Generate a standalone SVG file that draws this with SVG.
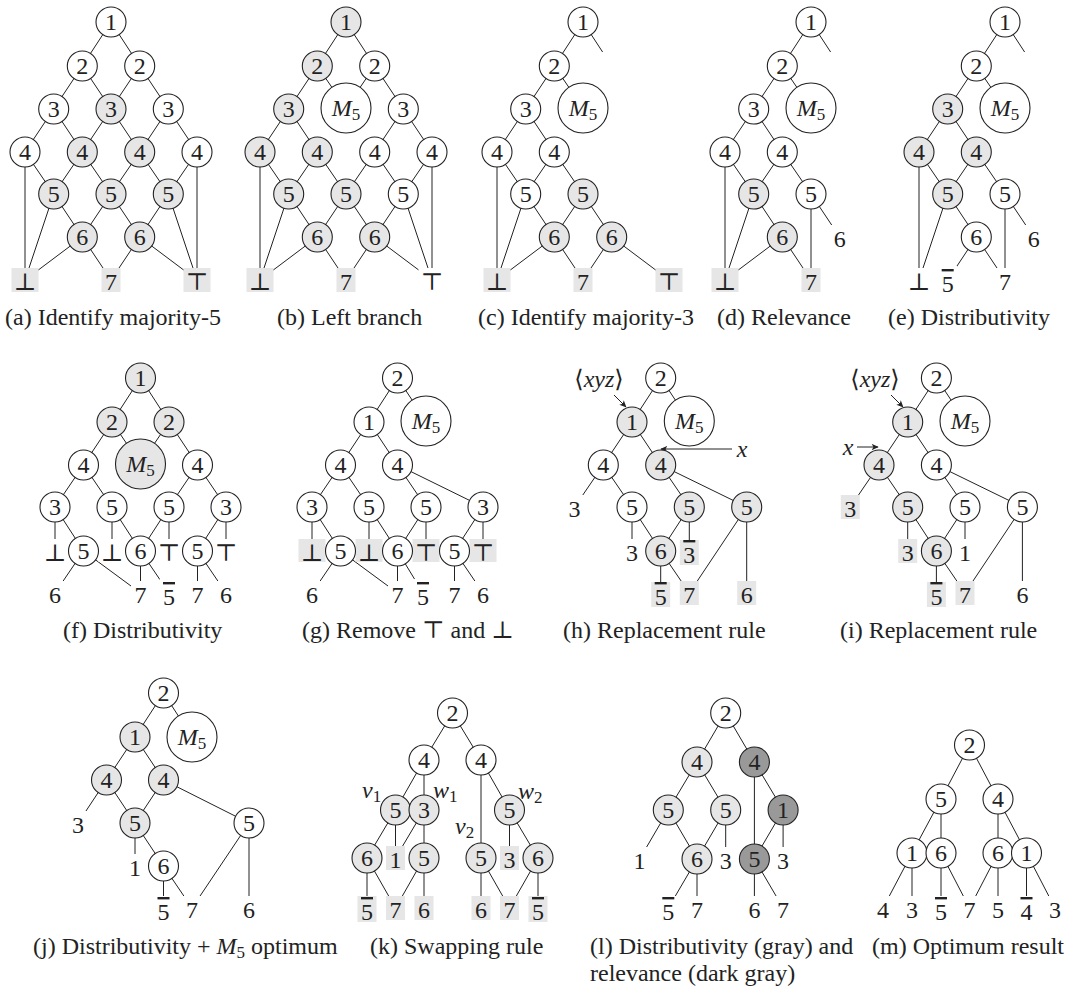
<svg xmlns="http://www.w3.org/2000/svg" width="1066" height="989" viewBox="0 0 1066 989" font-family="Liberation Serif, DejaVu Serif, Noto Serif, Tinos, Times New Roman, serif">
<defs>
<style>
.e line{stroke:#222;stroke-width:1}
circle{stroke:#222;stroke-width:1.1}
.w{fill:#fff}
.g{fill:#e6e6e6}
.d{fill:#999}
.bx{fill:#e6e6e6}
.wb{fill:#fff}
text{font-family:Liberation Serif, DejaVu Serif, Noto Serif, Tinos, Times New Roman, FreeSerif, serif;font-size:24px;fill:#222}
.c{text-anchor:middle}
.it{font-style:italic}
.sub{font-size:17px}
.bar{text-decoration:overline}
.ar{stroke:#222;stroke-width:1;marker-end:url(#ah)}
</style>
<marker id="ah" viewBox="0 0 10 10" refX="9" refY="5" markerWidth="8" markerHeight="7" markerUnits="userSpaceOnUse" orient="auto"><path d="M0,0.5 L10,5 L0,9.5 L2.5,5 z" fill="#222"/></marker>
</defs>
<rect width="1066" height="989" fill="#fff"/>

<!-- (a) -->
<g id="panel-a">
<g id="a-edges" class="e">
<line x1="111" y1="22" x2="82.3" y2="66"/><line x1="111" y1="22" x2="139.7" y2="66"/>
<line x1="82.3" y1="66" x2="53.7" y2="109"/><line x1="82.3" y1="66" x2="111" y2="109"/><line x1="139.7" y1="66" x2="111" y2="109"/><line x1="139.7" y1="66" x2="168.3" y2="109"/>
<line x1="53.7" y1="109" x2="25" y2="152"/><line x1="53.7" y1="109" x2="82.3" y2="152"/><line x1="111" y1="109" x2="82.3" y2="152"/><line x1="111" y1="109" x2="139.7" y2="152"/><line x1="168.3" y1="109" x2="139.7" y2="152"/><line x1="168.3" y1="109" x2="197" y2="152"/>
<line x1="25" y1="152" x2="53.7" y2="194"/><line x1="82.3" y1="152" x2="53.7" y2="194"/><line x1="82.3" y1="152" x2="111" y2="194"/><line x1="139.7" y1="152" x2="111" y2="194"/><line x1="139.7" y1="152" x2="168.3" y2="194"/><line x1="197" y1="152" x2="168.3" y2="194"/>
<line x1="53.7" y1="194" x2="82.3" y2="237"/><line x1="111" y1="194" x2="82.3" y2="237"/><line x1="111" y1="194" x2="139.7" y2="237"/><line x1="168.3" y1="194" x2="139.7" y2="237"/>
<line x1="25" y1="152" x2="25" y2="280"/><line x1="53.7" y1="194" x2="25" y2="280"/><line x1="82.3" y1="237" x2="25" y2="280"/><line x1="82.3" y1="237" x2="111" y2="280"/><line x1="139.7" y1="237" x2="111" y2="280"/><line x1="139.7" y1="237" x2="197" y2="280"/><line x1="168.3" y1="194" x2="197" y2="280"/><line x1="197" y1="152" x2="197" y2="280"/>
</g>
<g id="a-lbot"><rect class="bx" x="11.5" y="268" width="27" height="24"/><text class="c" x="25" y="290">&#x22A5;</text></g>
<g id="a-l7"><rect class="bx" x="101.5" y="268" width="19" height="24"/><text class="c" x="111" y="290">7</text></g>
<g id="a-ltop"><rect class="bx" x="183.5" y="268" width="27" height="24"/><text class="c" x="197" y="290">&#x22A4;</text></g>
<g id="a-n1"><circle class="w" cx="111" cy="22" r="15"/><text class="c" x="111" y="30">1</text></g>
<g id="a-n2l"><circle class="w" cx="82.3" cy="66" r="15"/><text class="c" x="82.3" y="74">2</text></g>
<g id="a-n2r"><circle class="w" cx="139.7" cy="66" r="15"/><text class="c" x="139.7" y="74">2</text></g>
<g id="a-n3l"><circle class="w" cx="53.7" cy="109" r="15"/><text class="c" x="53.7" y="117">3</text></g>
<g id="a-n3m"><circle class="g" cx="111" cy="109" r="15"/><text class="c" x="111" y="117">3</text></g>
<g id="a-n3r"><circle class="w" cx="168.3" cy="109" r="15"/><text class="c" x="168.3" y="117">3</text></g>
<g id="a-n4a"><circle class="w" cx="25" cy="152" r="15"/><text class="c" x="25" y="160">4</text></g>
<g id="a-n4b"><circle class="g" cx="82.3" cy="152" r="15"/><text class="c" x="82.3" y="160">4</text></g>
<g id="a-n4c"><circle class="g" cx="139.7" cy="152" r="15"/><text class="c" x="139.7" y="160">4</text></g>
<g id="a-n4d"><circle class="w" cx="197" cy="152" r="15"/><text class="c" x="197" y="160">4</text></g>
<g id="a-n5a"><circle class="g" cx="53.7" cy="194" r="15"/><text class="c" x="53.7" y="202">5</text></g>
<g id="a-n5b"><circle class="g" cx="111" cy="194" r="15"/><text class="c" x="111" y="202">5</text></g>
<g id="a-n5c"><circle class="g" cx="168.3" cy="194" r="15"/><text class="c" x="168.3" y="202">5</text></g>
<g id="a-n6a"><circle class="g" cx="82.3" cy="237" r="15"/><text class="c" x="82.3" y="245">6</text></g>
<g id="a-n6b"><circle class="g" cx="139.7" cy="237" r="15"/><text class="c" x="139.7" y="245">6</text></g>
</g>

<!-- (b) -->
<g id="panel-b" transform="translate(235,0)">
<g id="b-edges" class="e">
<line x1="111" y1="22" x2="82.3" y2="66"/><line x1="111" y1="22" x2="139.7" y2="66"/>
<line x1="82.3" y1="66" x2="53.7" y2="109"/><line x1="82.3" y1="66" x2="111" y2="108"/><line x1="139.7" y1="66" x2="111" y2="108"/><line x1="139.7" y1="66" x2="168.3" y2="109"/>
<line x1="53.7" y1="109" x2="25" y2="152"/><line x1="53.7" y1="109" x2="82.3" y2="152"/><line x1="168.3" y1="109" x2="139.7" y2="152"/><line x1="168.3" y1="109" x2="197" y2="152"/>
<line x1="25" y1="152" x2="53.7" y2="194"/><line x1="82.3" y1="152" x2="53.7" y2="194"/><line x1="82.3" y1="152" x2="111" y2="194"/><line x1="139.7" y1="152" x2="111" y2="194"/><line x1="139.7" y1="152" x2="168.3" y2="194"/><line x1="197" y1="152" x2="168.3" y2="194"/>
<line x1="53.7" y1="194" x2="82.3" y2="237"/><line x1="111" y1="194" x2="82.3" y2="237"/><line x1="111" y1="194" x2="139.7" y2="237"/><line x1="168.3" y1="194" x2="139.7" y2="237"/>
<line x1="25" y1="152" x2="25" y2="280"/><line x1="53.7" y1="194" x2="25" y2="280"/><line x1="82.3" y1="237" x2="25" y2="280"/><line x1="82.3" y1="237" x2="111" y2="280"/><line x1="139.7" y1="237" x2="111" y2="280"/><line x1="139.7" y1="237" x2="197" y2="280"/><line x1="168.3" y1="194" x2="197" y2="280"/><line x1="197" y1="152" x2="197" y2="280"/>
</g>
<g id="b-lbot"><rect class="bx" x="11.5" y="268" width="27" height="24"/><text class="c" x="25" y="290">&#x22A5;</text></g>
<g id="b-l7"><rect class="bx" x="101.5" y="268" width="19" height="24"/><text class="c" x="111" y="290">7</text></g>
<g id="b-ltop"><rect class="wb" x="183.5" y="268" width="27" height="24"/><text class="c" x="197" y="290">&#x22A4;</text></g>
<g id="b-n1"><circle class="g" cx="111" cy="22" r="15"/><text class="c" x="111" y="30">1</text></g>
<g id="b-n2l"><circle class="g" cx="82.3" cy="66" r="15"/><text class="c" x="82.3" y="74">2</text></g>
<g id="b-n2r"><circle class="w" cx="139.7" cy="66" r="15"/><text class="c" x="139.7" y="74">2</text></g>
<g id="b-n3l"><circle class="g" cx="53.7" cy="109" r="15"/><text class="c" x="53.7" y="117">3</text></g>
<g id="b-m5"><circle class="w" cx="111" cy="108" r="25"/><text class="c" x="111" y="116"><tspan class="it">M</tspan><tspan class="sub" dy="4">5</tspan></text></g>
<g id="b-n3r"><circle class="w" cx="168.3" cy="109" r="15"/><text class="c" x="168.3" y="117">3</text></g>
<g id="b-n4a"><circle class="g" cx="25" cy="152" r="15"/><text class="c" x="25" y="160">4</text></g>
<g id="b-n4b"><circle class="g" cx="82.3" cy="152" r="15"/><text class="c" x="82.3" y="160">4</text></g>
<g id="b-n4c"><circle class="w" cx="139.7" cy="152" r="15"/><text class="c" x="139.7" y="160">4</text></g>
<g id="b-n4d"><circle class="w" cx="197" cy="152" r="15"/><text class="c" x="197" y="160">4</text></g>
<g id="b-n5a"><circle class="g" cx="53.7" cy="194" r="15"/><text class="c" x="53.7" y="202">5</text></g>
<g id="b-n5b"><circle class="g" cx="111" cy="194" r="15"/><text class="c" x="111" y="202">5</text></g>
<g id="b-n5c"><circle class="w" cx="168.3" cy="194" r="15"/><text class="c" x="168.3" y="202">5</text></g>
<g id="b-n6a"><circle class="g" cx="82.3" cy="237" r="15"/><text class="c" x="82.3" y="245">6</text></g>
<g id="b-n6b"><circle class="g" cx="139.7" cy="237" r="15"/><text class="c" x="139.7" y="245">6</text></g>
</g>

<!-- (c) -->
<g id="panel-c" transform="translate(472,0)">
<g id="c-edges" class="e">
<line x1="111" y1="22" x2="82.3" y2="66"/><line x1="111" y1="22" x2="130.6" y2="52"/>
<line x1="82.3" y1="66" x2="53.7" y2="109"/><line x1="82.3" y1="66" x2="111" y2="108"/>
<line x1="53.7" y1="109" x2="25" y2="152"/><line x1="53.7" y1="109" x2="82.3" y2="152"/>
<line x1="25" y1="152" x2="53.7" y2="194"/><line x1="82.3" y1="152" x2="53.7" y2="194"/><line x1="82.3" y1="152" x2="111" y2="194"/>
<line x1="53.7" y1="194" x2="82.3" y2="237"/><line x1="111" y1="194" x2="82.3" y2="237"/><line x1="111" y1="194" x2="139.7" y2="237"/>
<line x1="25" y1="152" x2="25" y2="280"/><line x1="53.7" y1="194" x2="25" y2="280"/><line x1="82.3" y1="237" x2="25" y2="280"/><line x1="82.3" y1="237" x2="111" y2="280"/><line x1="139.7" y1="237" x2="111" y2="280"/><line x1="139.7" y1="237" x2="197" y2="280"/>
</g>
<g id="c-lbot"><rect class="bx" x="11.5" y="268" width="27" height="24"/><text class="c" x="25" y="290">&#x22A5;</text></g>
<g id="c-l7"><rect class="bx" x="101.5" y="268" width="19" height="24"/><text class="c" x="111" y="290">7</text></g>
<g id="c-ltop"><rect class="bx" x="183.5" y="268" width="27" height="24"/><text class="c" x="197" y="290">&#x22A4;</text></g>
<g id="c-n1"><circle class="w" cx="111" cy="22" r="15"/><text class="c" x="111" y="30">1</text></g>
<g id="c-n2"><circle class="w" cx="82.3" cy="66" r="15"/><text class="c" x="82.3" y="74">2</text></g>
<g id="c-n3"><circle class="w" cx="53.7" cy="109" r="15"/><text class="c" x="53.7" y="117">3</text></g>
<g id="c-m5"><circle class="w" cx="111" cy="108" r="25"/><text class="c" x="111" y="116"><tspan class="it">M</tspan><tspan class="sub" dy="4">5</tspan></text></g>
<g id="c-n4l"><circle class="w" cx="25" cy="152" r="15"/><text class="c" x="25" y="160">4</text></g>
<g id="c-n4r"><circle class="w" cx="82.3" cy="152" r="15"/><text class="c" x="82.3" y="160">4</text></g>
<g id="c-n5l"><circle class="w" cx="53.7" cy="194" r="15"/><text class="c" x="53.7" y="202">5</text></g>
<g id="c-n5r"><circle class="g" cx="111" cy="194" r="15"/><text class="c" x="111" y="202">5</text></g>
<g id="c-n6l"><circle class="g" cx="82.3" cy="237" r="15"/><text class="c" x="82.3" y="245">6</text></g>
<g id="c-n6r"><circle class="g" cx="139.7" cy="237" r="15"/><text class="c" x="139.7" y="245">6</text></g>
</g>

<!-- (d) -->
<g id="panel-d" transform="translate(700,0)">
<g id="d-edges" class="e">
<line x1="111" y1="22" x2="82.3" y2="66"/><line x1="111" y1="22" x2="130.6" y2="52"/>
<line x1="82.3" y1="66" x2="53.7" y2="109"/><line x1="82.3" y1="66" x2="111" y2="108"/>
<line x1="53.7" y1="109" x2="25" y2="152"/><line x1="53.7" y1="109" x2="82.3" y2="152"/>
<line x1="25" y1="152" x2="53.7" y2="194"/><line x1="82.3" y1="152" x2="53.7" y2="194"/><line x1="82.3" y1="152" x2="111" y2="194"/>
<line x1="53.7" y1="194" x2="82.3" y2="237"/><line x1="111" y1="194" x2="139.7" y2="237"/>
<line x1="25" y1="152" x2="25" y2="280"/><line x1="53.7" y1="194" x2="25" y2="280"/><line x1="82.3" y1="237" x2="25" y2="280"/><line x1="82.3" y1="237" x2="111" y2="280"/><line x1="111" y1="194" x2="111" y2="280"/>
</g>
<g id="d-l6"><rect class="wb" x="130.2" y="225" width="19" height="24"/><text class="c" x="139.7" y="247">6</text></g>
<g id="d-lbot"><rect class="bx" x="11.5" y="268" width="27" height="24"/><text class="c" x="25" y="290">&#x22A5;</text></g>
<g id="d-l7"><rect class="bx" x="101.5" y="268" width="19" height="24"/><text class="c" x="111" y="290">7</text></g>
<g id="d-n1"><circle class="w" cx="111" cy="22" r="15"/><text class="c" x="111" y="30">1</text></g>
<g id="d-n2"><circle class="w" cx="82.3" cy="66" r="15"/><text class="c" x="82.3" y="74">2</text></g>
<g id="d-n3"><circle class="w" cx="53.7" cy="109" r="15"/><text class="c" x="53.7" y="117">3</text></g>
<g id="d-m5"><circle class="w" cx="111" cy="108" r="25"/><text class="c" x="111" y="116"><tspan class="it">M</tspan><tspan class="sub" dy="4">5</tspan></text></g>
<g id="d-n4l"><circle class="w" cx="25" cy="152" r="15"/><text class="c" x="25" y="160">4</text></g>
<g id="d-n4r"><circle class="w" cx="82.3" cy="152" r="15"/><text class="c" x="82.3" y="160">4</text></g>
<g id="d-n5l"><circle class="g" cx="53.7" cy="194" r="15"/><text class="c" x="53.7" y="202">5</text></g>
<g id="d-n5r"><circle class="w" cx="111" cy="194" r="15"/><text class="c" x="111" y="202">5</text></g>
<g id="d-n6"><circle class="g" cx="82.3" cy="237" r="15"/><text class="c" x="82.3" y="245">6</text></g>
</g>

<!-- (e) -->
<g id="panel-e" transform="translate(894,0)">
<g id="e-edges" class="e">
<line x1="111" y1="22" x2="82.3" y2="66"/><line x1="111" y1="22" x2="130.6" y2="52"/>
<line x1="82.3" y1="66" x2="53.7" y2="109"/><line x1="82.3" y1="66" x2="111" y2="108"/>
<line x1="53.7" y1="109" x2="25" y2="152"/><line x1="53.7" y1="109" x2="82.3" y2="152"/>
<line x1="25" y1="152" x2="53.7" y2="194"/><line x1="82.3" y1="152" x2="53.7" y2="194"/><line x1="82.3" y1="152" x2="111" y2="194"/>
<line x1="53.7" y1="194" x2="82.3" y2="237"/><line x1="111" y1="194" x2="139.7" y2="237"/>
<line x1="25" y1="152" x2="25" y2="280"/><line x1="53.7" y1="194" x2="25" y2="280"/><line x1="82.3" y1="237" x2="53.7" y2="280"/><line x1="82.3" y1="237" x2="111" y2="280"/><line x1="111" y1="194" x2="111" y2="280"/>
</g>
<g id="e-l6"><rect class="wb" x="130.2" y="225" width="19" height="24"/><text class="c" x="139.7" y="247">6</text></g>
<g id="e-lbot"><rect class="wb" x="11.5" y="268" width="27" height="24"/><text class="c" x="25" y="290">&#x22A5;</text></g>
<g id="e-l5b"><rect class="wb" x="44.2" y="266" width="19" height="28"/><text class="c bar" x="53.7" y="292">5</text></g>
<g id="e-l7"><rect class="wb" x="101.5" y="268" width="19" height="24"/><text class="c" x="111" y="290">7</text></g>
<g id="e-n1"><circle class="w" cx="111" cy="22" r="15"/><text class="c" x="111" y="30">1</text></g>
<g id="e-n2"><circle class="w" cx="82.3" cy="66" r="15"/><text class="c" x="82.3" y="74">2</text></g>
<g id="e-n3"><circle class="g" cx="53.7" cy="109" r="15"/><text class="c" x="53.7" y="117">3</text></g>
<g id="e-m5"><circle class="w" cx="111" cy="108" r="25"/><text class="c" x="111" y="116"><tspan class="it">M</tspan><tspan class="sub" dy="4">5</tspan></text></g>
<g id="e-n4l"><circle class="g" cx="25" cy="152" r="15"/><text class="c" x="25" y="160">4</text></g>
<g id="e-n4r"><circle class="g" cx="82.3" cy="152" r="15"/><text class="c" x="82.3" y="160">4</text></g>
<g id="e-n5l"><circle class="g" cx="53.7" cy="194" r="15"/><text class="c" x="53.7" y="202">5</text></g>
<g id="e-n5r"><circle class="w" cx="111" cy="194" r="15"/><text class="c" x="111" y="202">5</text></g>
<g id="e-n6"><circle class="w" cx="82.3" cy="237" r="15"/><text class="c" x="82.3" y="245">6</text></g>
</g>

<!-- (f) -->
<g id="panel-f">
<g id="f-edges" class="e">
<line x1="140.5" y1="378" x2="112" y2="422"/><line x1="140.5" y1="378" x2="169" y2="422"/>
<line x1="112" y1="422" x2="83.5" y2="465"/><line x1="112" y1="422" x2="140.5" y2="464"/><line x1="169" y1="422" x2="140.5" y2="464"/><line x1="169" y1="422" x2="197.5" y2="465"/>
<line x1="83.5" y1="465" x2="55" y2="507"/><line x1="83.5" y1="465" x2="112" y2="507"/><line x1="197.5" y1="465" x2="169" y2="507"/><line x1="197.5" y1="465" x2="226" y2="507"/>
<line x1="55" y1="507" x2="55" y2="551"/><line x1="55" y1="507" x2="83.5" y2="551"/><line x1="112" y1="507" x2="112" y2="551"/><line x1="112" y1="507" x2="140.5" y2="551"/><line x1="169" y1="507" x2="140.5" y2="551"/><line x1="169" y1="507" x2="169" y2="551"/><line x1="226" y1="507" x2="197.5" y2="551"/><line x1="226" y1="507" x2="226" y2="551"/>
<line x1="83.5" y1="551" x2="55" y2="593"/><line x1="83.5" y1="551" x2="140.5" y2="593"/><line x1="140.5" y1="551" x2="140.5" y2="593"/><line x1="140.5" y1="551" x2="169" y2="593"/><line x1="197.5" y1="551" x2="197.5" y2="593"/><line x1="197.5" y1="551" x2="226" y2="593"/>
</g>
<g id="f-lbot1"><rect class="wb" x="41.5" y="539" width="27" height="23"/><text class="c" x="55" y="561">&#x22A5;</text></g>
<g id="f-lbot2"><rect class="wb" x="98.5" y="539" width="27" height="23"/><text class="c" x="112" y="561">&#x22A5;</text></g>
<g id="f-ltop1"><rect class="wb" x="155.5" y="539" width="27" height="23"/><text class="c" x="169" y="561">&#x22A4;</text></g>
<g id="f-ltop2"><rect class="wb" x="212.5" y="539" width="27" height="23"/><text class="c" x="226" y="561">&#x22A4;</text></g>
<g id="f-l6a"><rect class="wb" x="45.5" y="581" width="19" height="24"/><text class="c" x="55" y="603">6</text></g>
<g id="f-l7a"><rect class="wb" x="131" y="581" width="19" height="24"/><text class="c" x="140.5" y="603">7</text></g>
<g id="f-l5b"><rect class="wb" x="159.5" y="579" width="19" height="28"/><text class="c bar" x="169" y="605">5</text></g>
<g id="f-l7b"><rect class="wb" x="188" y="581" width="19" height="24"/><text class="c" x="197.5" y="603">7</text></g>
<g id="f-l6b"><rect class="wb" x="216.5" y="581" width="19" height="24"/><text class="c" x="226" y="603">6</text></g>
<g id="f-n1"><circle class="g" cx="140.5" cy="378" r="15"/><text class="c" x="140.5" y="386">1</text></g>
<g id="f-n2l"><circle class="g" cx="112" cy="422" r="15"/><text class="c" x="112" y="430">2</text></g>
<g id="f-n2r"><circle class="g" cx="169" cy="422" r="15"/><text class="c" x="169" y="430">2</text></g>
<g id="f-n4l"><circle class="w" cx="83.5" cy="465" r="15"/><text class="c" x="83.5" y="473">4</text></g>
<g id="f-m5"><circle class="g" cx="140.5" cy="464" r="25"/><text class="c" x="140.5" y="472"><tspan class="it">M</tspan><tspan class="sub" dy="4">5</tspan></text></g>
<g id="f-n4r"><circle class="w" cx="197.5" cy="465" r="15"/><text class="c" x="197.5" y="473">4</text></g>
<g id="f-n3a"><circle class="w" cx="55" cy="507" r="15"/><text class="c" x="55" y="515">3</text></g>
<g id="f-n5a"><circle class="w" cx="112" cy="507" r="15"/><text class="c" x="112" y="515">5</text></g>
<g id="f-n5b"><circle class="w" cx="169" cy="507" r="15"/><text class="c" x="169" y="515">5</text></g>
<g id="f-n3b"><circle class="w" cx="226" cy="507" r="15"/><text class="c" x="226" y="515">3</text></g>
<g id="f-n5c"><circle class="w" cx="83.5" cy="551" r="15"/><text class="c" x="83.5" y="559">5</text></g>
<g id="f-n6"><circle class="w" cx="140.5" cy="551" r="15"/><text class="c" x="140.5" y="559">6</text></g>
<g id="f-n5d"><circle class="w" cx="197.5" cy="551" r="15"/><text class="c" x="197.5" y="559">5</text></g>
</g>

<!-- (g) -->
<g id="panel-g">
<g id="g-edges" class="e">
<line x1="397.5" y1="378" x2="369" y2="422"/><line x1="397.5" y1="378" x2="426" y2="421"/>
<line x1="369" y1="422" x2="340.5" y2="465"/><line x1="369" y1="422" x2="397.5" y2="465"/>
<line x1="340.5" y1="465" x2="312" y2="507"/><line x1="340.5" y1="465" x2="369" y2="507"/><line x1="397.5" y1="465" x2="426" y2="507"/><line x1="397.5" y1="465" x2="483" y2="507"/>
<line x1="312" y1="507" x2="312" y2="551"/><line x1="312" y1="507" x2="340.5" y2="551"/><line x1="369" y1="507" x2="369" y2="551"/><line x1="369" y1="507" x2="397.5" y2="551"/><line x1="426" y1="507" x2="397.5" y2="551"/><line x1="426" y1="507" x2="426" y2="551"/><line x1="483" y1="507" x2="454.5" y2="551"/><line x1="483" y1="507" x2="483" y2="551"/>
<line x1="340.5" y1="551" x2="312" y2="593"/><line x1="340.5" y1="551" x2="397.5" y2="593"/><line x1="397.5" y1="551" x2="397.5" y2="593"/><line x1="397.5" y1="551" x2="423" y2="593"/><line x1="454.5" y1="551" x2="454.5" y2="593"/><line x1="454.5" y1="551" x2="483" y2="593"/>
</g>
<g id="g-lbot1"><rect class="bx" x="298.5" y="539" width="27" height="23"/><text class="c" x="312" y="561">&#x22A5;</text></g>
<g id="g-lbot2"><rect class="bx" x="355.5" y="539" width="27" height="23"/><text class="c" x="369" y="561">&#x22A5;</text></g>
<g id="g-ltop1"><rect class="bx" x="412.5" y="539" width="27" height="23"/><text class="c" x="426" y="561">&#x22A4;</text></g>
<g id="g-ltop2"><rect class="bx" x="469.5" y="539" width="27" height="23"/><text class="c" x="483" y="561">&#x22A4;</text></g>
<g id="g-l6a"><rect class="wb" x="302.5" y="581" width="19" height="24"/><text class="c" x="312" y="603">6</text></g>
<g id="g-l7a"><rect class="wb" x="388" y="581" width="19" height="24"/><text class="c" x="397.5" y="603">7</text></g>
<g id="g-l5b"><rect class="wb" x="413.5" y="579" width="19" height="28"/><text class="c bar" x="423" y="605">5</text></g>
<g id="g-l7b"><rect class="wb" x="445" y="581" width="19" height="24"/><text class="c" x="454.5" y="603">7</text></g>
<g id="g-l6b"><rect class="wb" x="473.5" y="581" width="19" height="24"/><text class="c" x="483" y="603">6</text></g>
<g id="g-n2"><circle class="w" cx="397.5" cy="378" r="15"/><text class="c" x="397.5" y="386">2</text></g>
<g id="g-n1"><circle class="w" cx="369" cy="422" r="15"/><text class="c" x="369" y="430">1</text></g>
<g id="g-m5"><circle class="w" cx="426" cy="421" r="25"/><text class="c" x="426" y="429"><tspan class="it">M</tspan><tspan class="sub" dy="4">5</tspan></text></g>
<g id="g-n4l"><circle class="w" cx="340.5" cy="465" r="15"/><text class="c" x="340.5" y="473">4</text></g>
<g id="g-n4r"><circle class="w" cx="397.5" cy="465" r="15"/><text class="c" x="397.5" y="473">4</text></g>
<g id="g-n3a"><circle class="w" cx="312" cy="507" r="15"/><text class="c" x="312" y="515">3</text></g>
<g id="g-n5a"><circle class="w" cx="369" cy="507" r="15"/><text class="c" x="369" y="515">5</text></g>
<g id="g-n5b"><circle class="w" cx="426" cy="507" r="15"/><text class="c" x="426" y="515">5</text></g>
<g id="g-n3b"><circle class="w" cx="483" cy="507" r="15"/><text class="c" x="483" y="515">3</text></g>
<g id="g-n5c"><circle class="w" cx="340.5" cy="551" r="15"/><text class="c" x="340.5" y="559">5</text></g>
<g id="g-n6"><circle class="w" cx="397.5" cy="551" r="15"/><text class="c" x="397.5" y="559">6</text></g>
<g id="g-n5d"><circle class="w" cx="454.5" cy="551" r="15"/><text class="c" x="454.5" y="559">5</text></g>
</g>

<!-- (h) -->
<g id="panel-h">
<g id="h-edges" class="e">
<line x1="660.7" y1="378" x2="632" y2="422"/><line x1="660.7" y1="378" x2="689.3" y2="421"/>
<line x1="632" y1="422" x2="603.3" y2="465"/><line x1="632" y1="422" x2="660.7" y2="465"/>
<line x1="603.3" y1="465" x2="574.6" y2="507"/><line x1="603.3" y1="465" x2="632" y2="507"/><line x1="660.7" y1="465" x2="689.3" y2="507"/><line x1="660.7" y1="465" x2="746.7" y2="507"/>
<line x1="632" y1="507" x2="632" y2="551"/><line x1="632" y1="507" x2="660.7" y2="551"/><line x1="689.3" y1="507" x2="660.7" y2="551"/><line x1="689.3" y1="507" x2="689.3" y2="551"/>
<line x1="660.7" y1="551" x2="660.7" y2="593"/><line x1="660.7" y1="551" x2="689.3" y2="593"/><line x1="746.7" y1="507" x2="689.3" y2="593"/><line x1="746.7" y1="507" x2="746.7" y2="593"/>
<line class="ar" x1="614" y1="395" x2="626" y2="407"/>
<line class="ar" x1="732" y1="449" x2="661" y2="449"/>
</g>
<g id="h-xyz"><text class="c" x="599" y="387">&#x27E8;<tspan class="it">xyz</tspan>&#x27E9;</text></g>
<g id="h-x"><text class="c it" x="742" y="457">x</text></g>
<g id="h-l3a"><rect class="wb" x="565.1" y="495" width="19" height="24"/><text class="c" x="574.6" y="517">3</text></g>
<g id="h-l3b"><rect class="wb" x="622.5" y="539" width="19" height="24"/><text class="c" x="632" y="561">3</text></g>
<g id="h-l3bar"><rect class="bx" x="679.8" y="540" width="19" height="25"/><text class="c bar" x="689.3" y="563">3</text></g>
<g id="h-l5bar"><rect class="bx" x="651.2" y="582" width="19" height="25"/><text class="c bar" x="660.7" y="605">5</text></g>
<g id="h-l7"><rect class="bx" x="679.8" y="581" width="19" height="24"/><text class="c" x="689.3" y="603">7</text></g>
<g id="h-l6"><rect class="bx" x="737.2" y="581" width="19" height="24"/><text class="c" x="746.7" y="603">6</text></g>
<g id="h-n2"><circle class="w" cx="660.7" cy="378" r="15"/><text class="c" x="660.7" y="386">2</text></g>
<g id="h-n1"><circle class="g" cx="632" cy="422" r="15"/><text class="c" x="632" y="430">1</text></g>
<g id="h-m5"><circle class="w" cx="689.3" cy="421" r="25"/><text class="c" x="689.3" y="429"><tspan class="it">M</tspan><tspan class="sub" dy="4">5</tspan></text></g>
<g id="h-n4l"><circle class="w" cx="603.3" cy="465" r="15"/><text class="c" x="603.3" y="473">4</text></g>
<g id="h-n4r"><circle class="g" cx="660.7" cy="465" r="15"/><text class="c" x="660.7" y="473">4</text></g>
<g id="h-n5a"><circle class="w" cx="632" cy="507" r="15"/><text class="c" x="632" y="515">5</text></g>
<g id="h-n5b"><circle class="g" cx="689.3" cy="507" r="15"/><text class="c" x="689.3" y="515">5</text></g>
<g id="h-n5c"><circle class="g" cx="746.7" cy="507" r="15"/><text class="c" x="746.7" y="515">5</text></g>
<g id="h-n6"><circle class="g" cx="660.7" cy="551" r="15"/><text class="c" x="660.7" y="559">6</text></g>
</g>

<!-- (i) -->
<g id="panel-i">
<g id="i-edges" class="e">
<line x1="936.4" y1="378" x2="907.7" y2="422"/><line x1="936.4" y1="378" x2="965" y2="421"/>
<line x1="907.7" y1="422" x2="879" y2="465"/><line x1="907.7" y1="422" x2="936.4" y2="465"/>
<line x1="879" y1="465" x2="850.3" y2="507"/><line x1="879" y1="465" x2="907.7" y2="507"/><line x1="936.4" y1="465" x2="965" y2="507"/><line x1="936.4" y1="465" x2="1022.4" y2="507"/>
<line x1="907.7" y1="507" x2="907.7" y2="551"/><line x1="907.7" y1="507" x2="936.4" y2="551"/><line x1="965" y1="507" x2="936.4" y2="551"/><line x1="965" y1="507" x2="965" y2="551"/>
<line x1="936.4" y1="551" x2="936.4" y2="593"/><line x1="936.4" y1="551" x2="965" y2="593"/><line x1="1022.4" y1="507" x2="965" y2="593"/><line x1="1022.4" y1="507" x2="1022.4" y2="593"/>
<line class="ar" x1="891" y1="395" x2="903" y2="407"/>
<line class="ar" x1="857" y1="447" x2="878" y2="447"/>
</g>
<g id="i-xyz"><text class="c" x="875" y="387">&#x27E8;<tspan class="it">xyz</tspan>&#x27E9;</text></g>
<g id="i-x"><text class="c it" x="848" y="455">x</text></g>
<g id="i-l3a"><rect class="bx" x="840.8" y="495" width="19" height="24"/><text class="c" x="850.3" y="517">3</text></g>
<g id="i-l3b"><rect class="bx" x="898.2" y="539" width="19" height="24"/><text class="c" x="907.7" y="561">3</text></g>
<g id="i-l1"><rect class="wb" x="955.5" y="539" width="19" height="24"/><text class="c" x="965" y="561">1</text></g>
<g id="i-l5bar"><rect class="bx" x="926.9" y="582" width="19" height="25"/><text class="c bar" x="936.4" y="605">5</text></g>
<g id="i-l7"><rect class="bx" x="955.5" y="581" width="19" height="24"/><text class="c" x="965" y="603">7</text></g>
<g id="i-l6"><rect class="wb" x="1012.9" y="581" width="19" height="24"/><text class="c" x="1022.4" y="603">6</text></g>
<g id="i-n2"><circle class="w" cx="936.4" cy="378" r="15"/><text class="c" x="936.4" y="386">2</text></g>
<g id="i-n1"><circle class="g" cx="907.7" cy="422" r="15"/><text class="c" x="907.7" y="430">1</text></g>
<g id="i-m5"><circle class="w" cx="965" cy="421" r="25"/><text class="c" x="965" y="429"><tspan class="it">M</tspan><tspan class="sub" dy="4">5</tspan></text></g>
<g id="i-n4l"><circle class="g" cx="879" cy="465" r="15"/><text class="c" x="879" y="473">4</text></g>
<g id="i-n4r"><circle class="w" cx="936.4" cy="465" r="15"/><text class="c" x="936.4" y="473">4</text></g>
<g id="i-n5a"><circle class="g" cx="907.7" cy="507" r="15"/><text class="c" x="907.7" y="515">5</text></g>
<g id="i-n5b"><circle class="w" cx="965" cy="507" r="15"/><text class="c" x="965" y="515">5</text></g>
<g id="i-n5c"><circle class="w" cx="1022.4" cy="507" r="15"/><text class="c" x="1022.4" y="515">5</text></g>
<g id="i-n6"><circle class="g" cx="936.4" cy="551" r="15"/><text class="c" x="936.4" y="559">6</text></g>
</g>

<!-- (j) -->
<g id="panel-j">
<g id="j-edges" class="e">
<line x1="163.5" y1="693" x2="135" y2="737"/><line x1="163.5" y1="693" x2="192" y2="737"/>
<line x1="135" y1="737" x2="106.5" y2="780"/><line x1="135" y1="737" x2="163.5" y2="780"/>
<line x1="106.5" y1="780" x2="78" y2="823"/><line x1="106.5" y1="780" x2="135" y2="823"/><line x1="163.5" y1="780" x2="135" y2="823"/><line x1="163.5" y1="780" x2="249" y2="823"/>
<line x1="135" y1="823" x2="135" y2="866"/><line x1="135" y1="823" x2="163.5" y2="866"/>
<line x1="163.5" y1="866" x2="163.5" y2="908"/><line x1="163.5" y1="866" x2="192" y2="908"/><line x1="249" y1="823" x2="192" y2="908"/><line x1="249" y1="823" x2="249" y2="908"/>
</g>
<g id="j-l3"><rect class="wb" x="68.5" y="811" width="19" height="24"/><text class="c" x="78" y="833">3</text></g>
<g id="j-l1"><rect class="wb" x="125.5" y="854" width="19" height="24"/><text class="c" x="135" y="876">1</text></g>
<g id="j-l5bar"><rect class="wb" x="154" y="896" width="19" height="26"/><text class="c bar" x="163.5" y="920">5</text></g>
<g id="j-l7"><rect class="wb" x="182.5" y="896" width="19" height="24"/><text class="c" x="192" y="918">7</text></g>
<g id="j-l6"><rect class="wb" x="239.5" y="896" width="19" height="24"/><text class="c" x="249" y="918">6</text></g>
<g id="j-n2"><circle class="w" cx="163.5" cy="693" r="15"/><text class="c" x="163.5" y="701">2</text></g>
<g id="j-n1"><circle class="g" cx="135" cy="737" r="15"/><text class="c" x="135" y="745">1</text></g>
<g id="j-m5"><circle class="w" cx="192" cy="737" r="25"/><text class="c" x="192" y="745"><tspan class="it">M</tspan><tspan class="sub" dy="4">5</tspan></text></g>
<g id="j-n4l"><circle class="g" cx="106.5" cy="780" r="15"/><text class="c" x="106.5" y="788">4</text></g>
<g id="j-n4r"><circle class="g" cx="163.5" cy="780" r="15"/><text class="c" x="163.5" y="788">4</text></g>
<g id="j-n5"><circle class="g" cx="135" cy="823" r="15"/><text class="c" x="135" y="831">5</text></g>
<g id="j-n5r"><circle class="w" cx="249" cy="823" r="15"/><text class="c" x="249" y="831">5</text></g>
<g id="j-n6"><circle class="w" cx="163.5" cy="866" r="15"/><text class="c" x="163.5" y="874">6</text></g>
</g>

<!-- (k) -->
<g id="panel-k">
<g id="k-edges" class="e">
<line x1="452.5" y1="713" x2="424" y2="760"/><line x1="452.5" y1="713" x2="481" y2="760"/>
<line x1="424" y1="760" x2="395.5" y2="810"/><line x1="424" y1="760" x2="424" y2="810"/><line x1="481" y1="760" x2="481" y2="858"/><line x1="481" y1="760" x2="509.5" y2="810"/>
<line x1="395.5" y1="810" x2="367" y2="858"/><line x1="395.5" y1="810" x2="395.5" y2="858"/><line x1="424" y1="810" x2="395.5" y2="858"/><line x1="424" y1="810" x2="424" y2="858"/><line x1="509.5" y1="810" x2="509.5" y2="858"/><line x1="509.5" y1="810" x2="538" y2="858"/>
<line x1="367" y1="858" x2="367" y2="908"/><line x1="367" y1="858" x2="395.5" y2="908"/><line x1="424" y1="858" x2="395.5" y2="908"/><line x1="424" y1="858" x2="424" y2="908"/><line x1="481" y1="858" x2="481" y2="908"/><line x1="481" y1="858" x2="509.5" y2="908"/><line x1="538" y1="858" x2="509.5" y2="908"/><line x1="538" y1="858" x2="538" y2="908"/>
</g>
<g id="k-v1"><text class="it" x="362" y="798">v<tspan class="sub" font-style="normal" dy="4">1</tspan></text></g>
<g id="k-w1"><text class="it" x="433" y="798">w<tspan class="sub" font-style="normal" dy="4">1</tspan></text></g>
<g id="k-w2"><text class="it" x="518" y="799">w<tspan class="sub" font-style="normal" dy="4">2</tspan></text></g>
<g id="k-v2"><text class="it" x="455" y="834">v<tspan class="sub" font-style="normal" dy="4">2</tspan></text></g>
<g id="k-l1"><rect class="bx" x="386" y="846" width="19" height="24"/><text class="c" x="395.5" y="868">1</text></g>
<g id="k-l3"><rect class="bx" x="500" y="846" width="19" height="24"/><text class="c" x="509.5" y="868">3</text></g>
<g id="k-l5bar1"><rect class="bx" x="357.5" y="896" width="19" height="26"/><text class="c bar" x="367" y="920">5</text></g>
<g id="k-l7a"><rect class="bx" x="386" y="896" width="19" height="24"/><text class="c" x="395.5" y="918">7</text></g>
<g id="k-l6a"><rect class="bx" x="414.5" y="896" width="19" height="24"/><text class="c" x="424" y="918">6</text></g>
<g id="k-l6b"><rect class="bx" x="471.5" y="896" width="19" height="24"/><text class="c" x="481" y="918">6</text></g>
<g id="k-l7b"><rect class="bx" x="500" y="896" width="19" height="24"/><text class="c" x="509.5" y="918">7</text></g>
<g id="k-l5bar2"><rect class="bx" x="528.5" y="896" width="19" height="26"/><text class="c bar" x="538" y="920">5</text></g>
<g id="k-n2"><circle class="w" cx="452.5" cy="713" r="15"/><text class="c" x="452.5" y="721">2</text></g>
<g id="k-n4l"><circle class="w" cx="424" cy="760" r="15"/><text class="c" x="424" y="768">4</text></g>
<g id="k-n4r"><circle class="w" cx="481" cy="760" r="15"/><text class="c" x="481" y="768">4</text></g>
<g id="k-n5v1"><circle class="g" cx="395.5" cy="810" r="15"/><text class="c" x="395.5" y="818">5</text></g>
<g id="k-n3w1"><circle class="g" cx="424" cy="810" r="15"/><text class="c" x="424" y="818">3</text></g>
<g id="k-n5w2"><circle class="g" cx="509.5" cy="810" r="15"/><text class="c" x="509.5" y="818">5</text></g>
<g id="k-n6a"><circle class="g" cx="367" cy="858" r="15"/><text class="c" x="367" y="866">6</text></g>
<g id="k-n5a"><circle class="g" cx="424" cy="858" r="15"/><text class="c" x="424" y="866">5</text></g>
<g id="k-n5v2"><circle class="g" cx="481" cy="858" r="15"/><text class="c" x="481" y="866">5</text></g>
<g id="k-n6b"><circle class="g" cx="538" cy="858" r="15"/><text class="c" x="538" y="866">6</text></g>
</g>

<!-- (l) -->
<g id="panel-l">
<g id="l-edges" class="e">
<line x1="725.7" y1="713" x2="697" y2="762"/><line x1="725.7" y1="713" x2="754.4" y2="762"/>
<line x1="697" y1="762" x2="668.3" y2="810"/><line x1="697" y1="762" x2="725.7" y2="810"/><line x1="754.4" y1="762" x2="754.4" y2="859"/><line x1="754.4" y1="762" x2="783.1" y2="810"/>
<line x1="668.3" y1="810" x2="639.6" y2="859"/><line x1="668.3" y1="810" x2="697" y2="859"/><line x1="725.7" y1="810" x2="697" y2="859"/><line x1="725.7" y1="810" x2="725.7" y2="859"/><line x1="783.1" y1="810" x2="754.4" y2="859"/><line x1="783.1" y1="810" x2="783.1" y2="859"/>
<line x1="697" y1="859" x2="668.3" y2="908"/><line x1="697" y1="859" x2="697" y2="908"/><line x1="754.4" y1="859" x2="754.4" y2="908"/><line x1="754.4" y1="859" x2="783.1" y2="908"/>
</g>
<g id="l-l1"><rect class="wb" x="630.1" y="847" width="19" height="24"/><text class="c" x="639.6" y="869">1</text></g>
<g id="l-l3a"><rect class="wb" x="716.2" y="847" width="19" height="24"/><text class="c" x="725.7" y="869">3</text></g>
<g id="l-l3b"><rect class="wb" x="773.6" y="847" width="19" height="24"/><text class="c" x="783.1" y="869">3</text></g>
<g id="l-l5bar"><rect class="wb" x="658.8" y="896" width="19" height="26"/><text class="c bar" x="668.3" y="920">5</text></g>
<g id="l-l7a"><rect class="wb" x="687.5" y="896" width="19" height="24"/><text class="c" x="697" y="918">7</text></g>
<g id="l-l6"><rect class="wb" x="744.9" y="896" width="19" height="24"/><text class="c" x="754.4" y="918">6</text></g>
<g id="l-l7b"><rect class="wb" x="773.6" y="896" width="19" height="24"/><text class="c" x="783.1" y="918">7</text></g>
<g id="l-n2"><circle class="w" cx="725.7" cy="713" r="15"/><text class="c" x="725.7" y="721">2</text></g>
<g id="l-n4l"><circle class="g" cx="697" cy="762" r="15"/><text class="c" x="697" y="770">4</text></g>
<g id="l-n4r"><circle class="d" cx="754.4" cy="762" r="15"/><text class="c" x="754.4" y="770">4</text></g>
<g id="l-n5a"><circle class="g" cx="668.3" cy="810" r="15"/><text class="c" x="668.3" y="818">5</text></g>
<g id="l-n5b"><circle class="g" cx="725.7" cy="810" r="15"/><text class="c" x="725.7" y="818">5</text></g>
<g id="l-n1"><circle class="d" cx="783.1" cy="810" r="15"/><text class="c" x="783.1" y="818">1</text></g>
<g id="l-n6"><circle class="g" cx="697" cy="859" r="15"/><text class="c" x="697" y="867">6</text></g>
<g id="l-n5c"><circle class="d" cx="754.4" cy="859" r="15"/><text class="c" x="754.4" y="867">5</text></g>
</g>

<!-- (m) -->
<g id="panel-m">
<g id="m-edges" class="e">
<line x1="969.5" y1="745" x2="941" y2="799"/><line x1="969.5" y1="745" x2="998" y2="799"/>
<line x1="941" y1="799" x2="912" y2="853"/><line x1="941" y1="799" x2="941" y2="853"/><line x1="998" y1="799" x2="998" y2="853"/><line x1="998" y1="799" x2="1026.5" y2="853"/>
<line x1="912" y1="853" x2="883" y2="908"/><line x1="912" y1="853" x2="912" y2="908"/><line x1="941" y1="853" x2="941" y2="908"/><line x1="941" y1="853" x2="969.5" y2="908"/><line x1="998" y1="853" x2="969.5" y2="908"/><line x1="998" y1="853" x2="998" y2="908"/><line x1="1026.5" y1="853" x2="1026.5" y2="908"/><line x1="1026.5" y1="853" x2="1055" y2="908"/>
</g>
<g id="m-l4"><rect class="wb" x="873.5" y="896" width="19" height="24"/><text class="c" x="883" y="918">4</text></g>
<g id="m-l3a"><rect class="wb" x="902.5" y="896" width="19" height="24"/><text class="c" x="912" y="918">3</text></g>
<g id="m-l5bar"><rect class="wb" x="931.5" y="896" width="19" height="26"/><text class="c bar" x="941" y="920">5</text></g>
<g id="m-l7"><rect class="wb" x="960" y="896" width="19" height="24"/><text class="c" x="969.5" y="918">7</text></g>
<g id="m-l5"><rect class="wb" x="988.5" y="896" width="19" height="24"/><text class="c" x="998" y="918">5</text></g>
<g id="m-l4bar"><rect class="wb" x="1017" y="896" width="19" height="26"/><text class="c bar" x="1026.5" y="920">4</text></g>
<g id="m-l3b"><rect class="wb" x="1045.5" y="896" width="19" height="24"/><text class="c" x="1055" y="918">3</text></g>
<g id="m-n2"><circle class="w" cx="969.5" cy="745" r="15"/><text class="c" x="969.5" y="753">2</text></g>
<g id="m-n5"><circle class="w" cx="941" cy="799" r="15"/><text class="c" x="941" y="807">5</text></g>
<g id="m-n4"><circle class="w" cx="998" cy="799" r="15"/><text class="c" x="998" y="807">4</text></g>
<g id="m-n1a"><circle class="w" cx="912" cy="853" r="15"/><text class="c" x="912" y="861">1</text></g>
<g id="m-n6a"><circle class="w" cx="941" cy="853" r="15"/><text class="c" x="941" y="861">6</text></g>
<g id="m-n6b"><circle class="w" cx="998" cy="853" r="15"/><text class="c" x="998" y="861">6</text></g>
<g id="m-n1b"><circle class="w" cx="1026.5" cy="853" r="15"/><text class="c" x="1026.5" y="861">1</text></g>
</g>

<g id="captions">
<text x="5" y="325">(a) Identify majority-5</text>
<text x="277" y="325">(b) Left branch</text>
<text x="478" y="325">(c) Identify majority-3</text>
<text x="717" y="325">(d) Relevance</text>
<text x="888" y="325">(e) Distributivity</text>
<text x="63" y="638">(f) Distributivity</text>
<text x="302" y="638">(g) Remove &#x22A4; and &#x22A5;</text>
<text x="563" y="638">(h) Replacement rule</text>
<text x="840" y="638">(i) Replacement rule</text>
<text x="33" y="954">(j) Distributivity + <tspan class="it">M</tspan><tspan class="sub" dy="4">5</tspan><tspan dy="-4"> optimum</tspan></text>
<text x="370" y="954">(k) Swapping rule</text>
<text x="590" y="954">(l) Distributivity (gray) and</text>
<text x="590" y="981">relevance (dark gray)</text>
<text x="872" y="954">(m) Optimum result</text>
</g>
</svg>
